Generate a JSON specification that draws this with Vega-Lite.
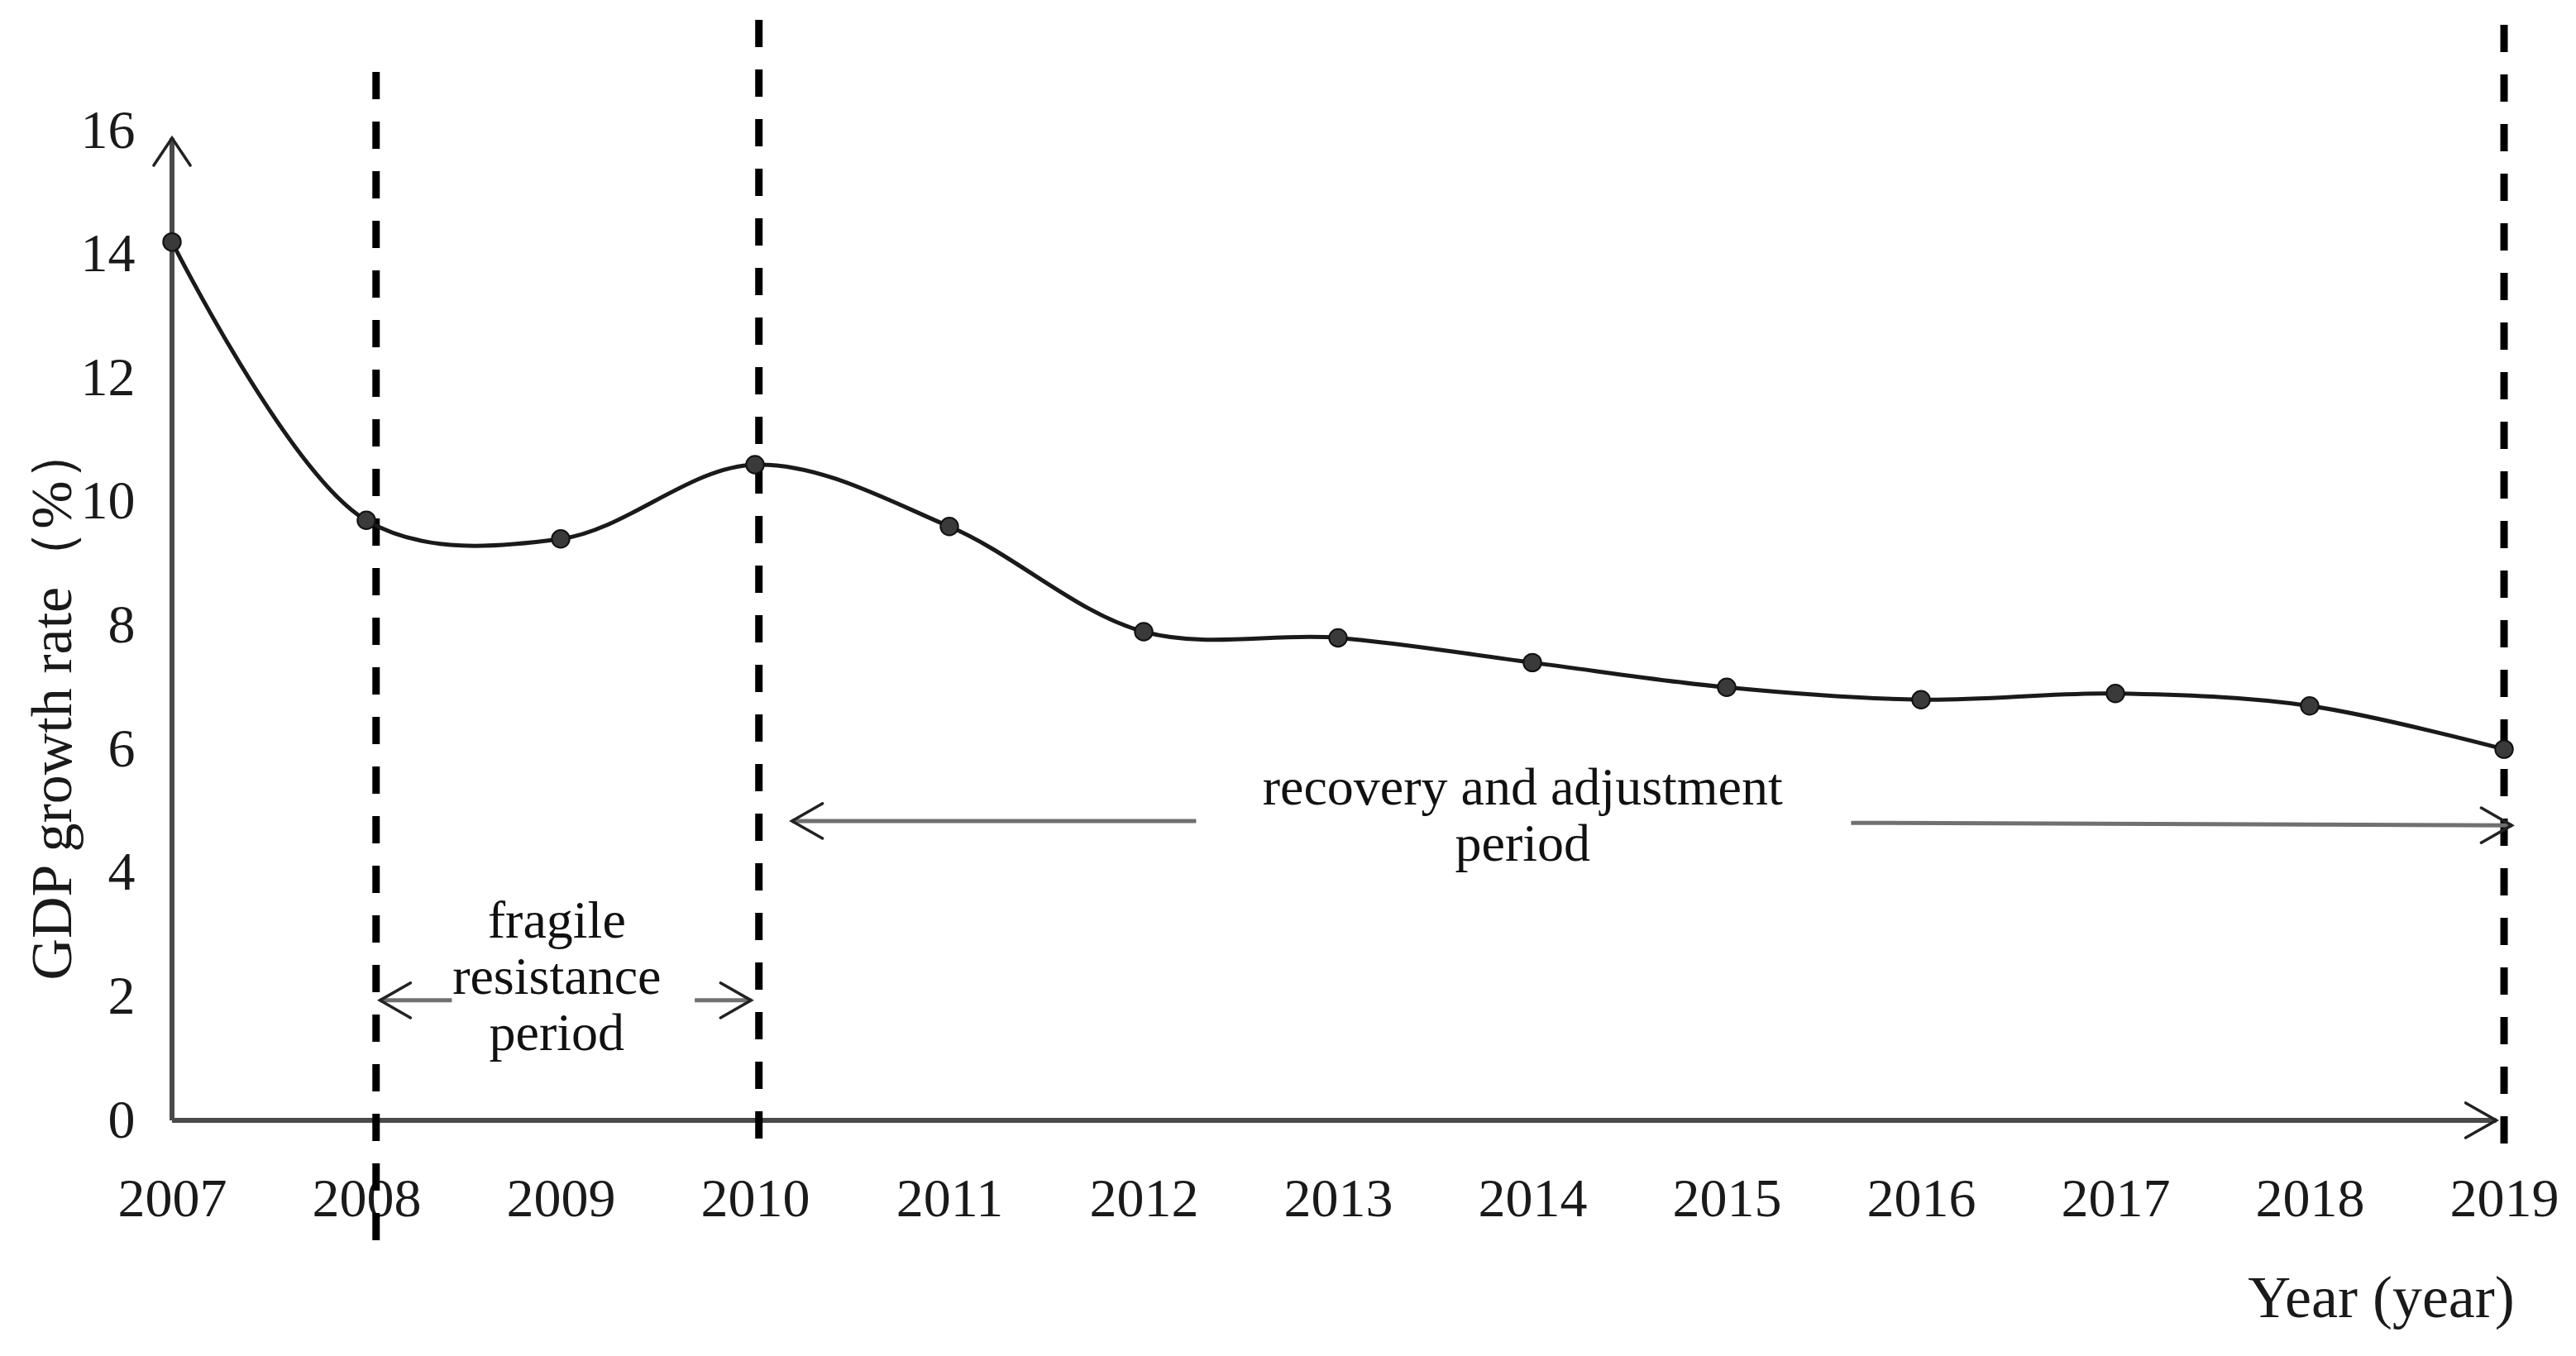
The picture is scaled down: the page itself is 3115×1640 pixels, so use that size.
{
  "$schema": "https://vega.github.io/schema/vega-lite/v6.json",
  "width": 2820,
  "height": 1197,
  "autosize": {"type": "none"},
  "padding": {"left": 208, "top": 158, "right": 87, "bottom": 285},
  "background": "white",
  "config": {"view": {"stroke": null}},
  "datasets": {
    "gdp": [
      {"year": 2007, "rate": 14.2},
      {"year": 2008, "rate": 9.7},
      {"year": 2009, "rate": 9.4},
      {"year": 2010, "rate": 10.6},
      {"year": 2011, "rate": 9.6},
      {"year": 2012, "rate": 7.9},
      {"year": 2013, "rate": 7.8},
      {"year": 2014, "rate": 7.4},
      {"year": 2015, "rate": 7.0},
      {"year": 2016, "rate": 6.8},
      {"year": 2017, "rate": 6.9},
      {"year": 2018, "rate": 6.7},
      {"year": 2019, "rate": 6.0}
    ],
    "dividers": [
      {"year": 2008.05, "top": 16.95, "bottom": -1.94},
      {"year": 2010.02, "top": 17.79, "bottom": -0.52},
      {"year": 2019.0, "top": 17.71, "bottom": -0.53}
    ],
    "axislines": [
      {"x1": 2007, "x2": 2007, "y1": 0, "y2": 15.88},
      {"x1": 2007, "x2": 2018.96, "y1": 0, "y2": 0}
    ],
    "shafts": [
      {"x1": 2008.07, "x2": 2008.44, "y1": 1.94, "y2": 1.94},
      {"x1": 2009.69, "x2": 2009.98, "y1": 1.94, "y2": 1.94},
      {"x1": 2010.19, "x2": 2012.27, "y1": 4.84, "y2": 4.84},
      {"x1": 2015.64, "x2": 2019.04, "y1": 4.81, "y2": 4.77}
    ],
    "heads": [
      {"x": 2007, "y": 15.88, "dir": "up"},
      {"x": 2018.96, "y": 0, "dir": "right"},
      {"x": 2008.07, "y": 1.94, "dir": "left"},
      {"x": 2009.98, "y": 1.94, "dir": "right"},
      {"x": 2010.19, "y": 4.84, "dir": "left"},
      {"x": 2019.04, "y": 4.77, "dir": "right"}
    ],
    "notes": [
      {"x": 2008.98, "y": 3.21, "label": "fragile\nresistance\nperiod"},
      {"x": 2013.95, "y": 5.36, "label": "recovery and adjustment\nperiod"}
    ]
  },
  "layer": [
    {
      "data": {"name": "axislines"},
      "mark": {"type": "rule", "color": "#4a4a4a", "strokeWidth": 6},
      "encoding": {
        "x": {
          "field": "x1", "type": "quantitative",
          "scale": {"domain": [2007, 2019], "nice": false, "zero": false},
          "axis": {
            "values": [2007, 2008, 2009, 2010, 2011, 2012, 2013, 2014, 2015, 2016, 2017, 2018, 2019],
            "format": "d", "domain": false, "ticks": false, "grid": false,
            "labelFont": "Liberation Serif", "labelFontSize": 66, "labelColor": "#1a1a1a",
            "labelPadding": 63, "labelBaseline": "top", "labelFlush": false, "labelOverlap": false,
            "title": "Year (year)", "titleFont": "Liberation Serif", "titleFontSize": 72,
            "titleFontWeight": "normal", "titleColor": "#1a1a1a",
            "titleX": 2671, "titleY": 215, "titleAlign": "center", "titleBaseline": "middle"
          }
        },
        "x2": {"field": "x2"},
        "y": {
          "field": "y1", "type": "quantitative",
          "scale": {"domain": [0, 16], "nice": false, "zero": false},
          "axis": {
            "values": [0, 2, 4, 6, 8, 10, 12, 14, 16],
            "format": "d", "domain": false, "ticks": false, "grid": false,
            "labelFont": "Liberation Serif", "labelFontSize": 66, "labelColor": "#1a1a1a",
            "labelPadding": 45, "labelOverlap": false, "labelFlush": false,
            "title": "GDP growth rate（%）", "titleFont": "Liberation Serif", "titleFontSize": 70,
            "titleFontWeight": "normal", "titleColor": "#1a1a1a", "titleAngle": 270,
            "titleX": -144, "titleY": 690, "titleAlign": "center", "titleBaseline": "middle"
          }
        },
        "y2": {"field": "y2"}
      }
    },
    {
      "data": {"name": "dividers"},
      "mark": {"type": "rule", "color": "#000000", "strokeWidth": 9, "strokeDash": [33, 27]},
      "encoding": {
        "x": {"field": "year", "type": "quantitative"},
        "y": {"field": "top", "type": "quantitative"},
        "y2": {"field": "bottom"}
      }
    },
    {
      "data": {"name": "gdp"},
      "mark": {"type": "line", "interpolate": "catmull-rom", "color": "#1a1a1a", "strokeWidth": 5},
      "encoding": {
        "x": {"field": "year", "type": "quantitative"},
        "y": {"field": "rate", "type": "quantitative"}
      }
    },
    {
      "data": {"name": "gdp"},
      "mark": {"type": "point", "filled": true, "fill": "#3a3a3a", "stroke": "#111111", "strokeWidth": 2, "size": 460, "opacity": 1},
      "encoding": {
        "x": {"field": "year", "type": "quantitative"},
        "y": {"field": "rate", "type": "quantitative"}
      }
    },
    {
      "data": {"name": "shafts"},
      "mark": {"type": "rule", "color": "#707070", "strokeWidth": 5},
      "encoding": {
        "x": {"field": "x1", "type": "quantitative"},
        "x2": {"field": "x2"},
        "y": {"field": "y1", "type": "quantitative"},
        "y2": {"field": "y2"}
      }
    },
    {
      "data": {"name": "heads"},
      "transform": [{"filter": {"field": "dir", "equal": "right"}}],
      "mark": {"type": "point", "shape": "M -1 -0.57 L 0 0 L -1 0.57", "angle": 0, "filled": false, "stroke": "#222222", "strokeWidth": 3.5, "strokeCap": "round", "size": 5476, "opacity": 1},
      "encoding": {
        "x": {"field": "x", "type": "quantitative"},
        "y": {"field": "y", "type": "quantitative"}
      }
    },
    {
      "data": {"name": "heads"},
      "transform": [{"filter": {"field": "dir", "equal": "left"}}],
      "mark": {"type": "point", "shape": "M -1 -0.57 L 0 0 L -1 0.57", "angle": 180, "filled": false, "stroke": "#222222", "strokeWidth": 3.5, "strokeCap": "round", "size": 5476, "opacity": 1},
      "encoding": {
        "x": {"field": "x", "type": "quantitative"},
        "y": {"field": "y", "type": "quantitative"}
      }
    },
    {
      "data": {"name": "heads"},
      "transform": [{"filter": {"field": "dir", "equal": "up"}}],
      "mark": {"type": "point", "shape": "M -1 -0.67 L 0 0 L -1 0.67", "angle": 270, "filled": false, "stroke": "#222222", "strokeWidth": 3.5, "strokeCap": "round", "size": 4356, "opacity": 1},
      "encoding": {
        "x": {"field": "x", "type": "quantitative"},
        "y": {"field": "y", "type": "quantitative"}
      }
    },
    {
      "data": {"name": "notes"},
      "mark": {"type": "text", "font": "Liberation Serif", "fontSize": 64, "lineHeight": 68, "lineBreak": "\n", "align": "center", "baseline": "middle", "color": "#111111"},
      "encoding": {
        "x": {"field": "x", "type": "quantitative"},
        "y": {"field": "y", "type": "quantitative"},
        "text": {"field": "label"}
      }
    }
  ]
}
